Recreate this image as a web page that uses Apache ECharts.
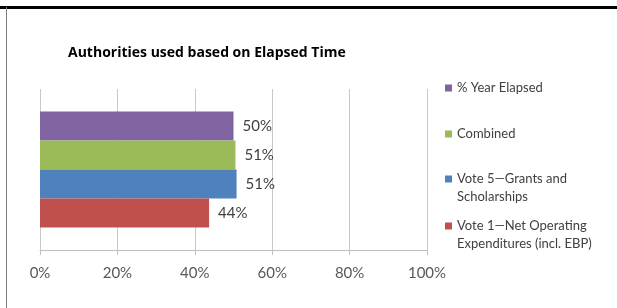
<!DOCTYPE html>
<html>
<head>
<meta charset="utf-8">
<script src="https://cdn.jsdelivr.net/npm/echarts@6/dist/echarts.min.js"></script>
<style>
html,body{margin:0;padding:0;background:#fff;}
#c{width:617px;height:308px;}
</style>
</head>
<body>
<div id="c"></div>
<script>
const titleText = 'Authorities used based on Elapsed Time';
const categories = [''];
const seriesNames = ['% Year Elapsed', 'Combined', 'Vote 5\u2014Grants and\nScholarships', 'Vote 1\u2014Net Operating\nExpenditures (incl. EBP)'];
const seriesValues = [50, 50.5, 50.8, 43.7];
const seriesColors = ['#8064a2', '#9bbb59', '#4f81bd', '#c0504d'];
const xTicks = [0, 20, 40, 60, 80, 100];

const font = 'Lato';
const chart = echarts.init(document.getElementById('c'));

const legendTops = [74, 120, 147, 194];
const legends = seriesNames.map((n, i) => ({
  data: [n],
  orient: 'vertical',
  left: 440,
  top: legendTops[i],
  itemWidth: 7,
  itemHeight: 7,
  icon: 'rect',
  itemGap: 0,
  selectedMode: false,
  formatter: name => (name.indexOf('\n') >= 0 ? '\n' + name : name),
  textStyle: {fontFamily: font, fontSize: 13, color: '#404040', lineHeight: 18}
}));

chart.setOption({
  animation: false,
  backgroundColor: '#fff',
  title: {
    text: titleText, left: 63, top: 41,
    textStyle: {fontFamily: 'Open Sans', fontSize: 14, fontWeight: 'bold', color: '#000'}
  },
  legend: legends,
  grid: {left: 40, right: 190, top: 89, bottom: 58},
  xAxis: {
    type: 'value', min: xTicks[0], max: xTicks[xTicks.length - 1], interval: 20,
    axisLine: {show: true, lineStyle: {color: '#bfbfbf'}},
    axisTick: {show: true, length: 5, lineStyle: {color: '#bfbfbf'}},
    splitLine: {show: true, lineStyle: {color: '#c8c8c8'}},
    axisLabel: {formatter: '{value}%', fontFamily: font, fontSize: 15, color: '#595959', margin: 16}
  },
  yAxis: {
    type: 'category', data: categories, inverse: true,
    axisLine: {show: false}, axisTick: {show: false}, axisLabel: {show: false}
  },
  series: seriesNames.map((n, i) => ({
    type: 'bar', name: n, data: [seriesValues[i]],
    barGap: '0%', barCategoryGap: '28%',
    itemStyle: {color: seriesColors[i]},
    label: {
      show: true, position: 'right', distance: 9,
      formatter: p => Math.round(p.value) + '%',
      fontFamily: font, fontSize: 15, color: '#404040'
    }
  })),
  graphic: [
    {type: 'rect', shape: {x: 0, y: 6, width: 617, height: 3}, style: {fill: '#000'}, silent: true},
    {type: 'rect', shape: {x: 6, y: 7, width: 1, height: 301}, style: {fill: '#7f7f7f'}, silent: true}
  ]
});
</script>
</body>
</html>
